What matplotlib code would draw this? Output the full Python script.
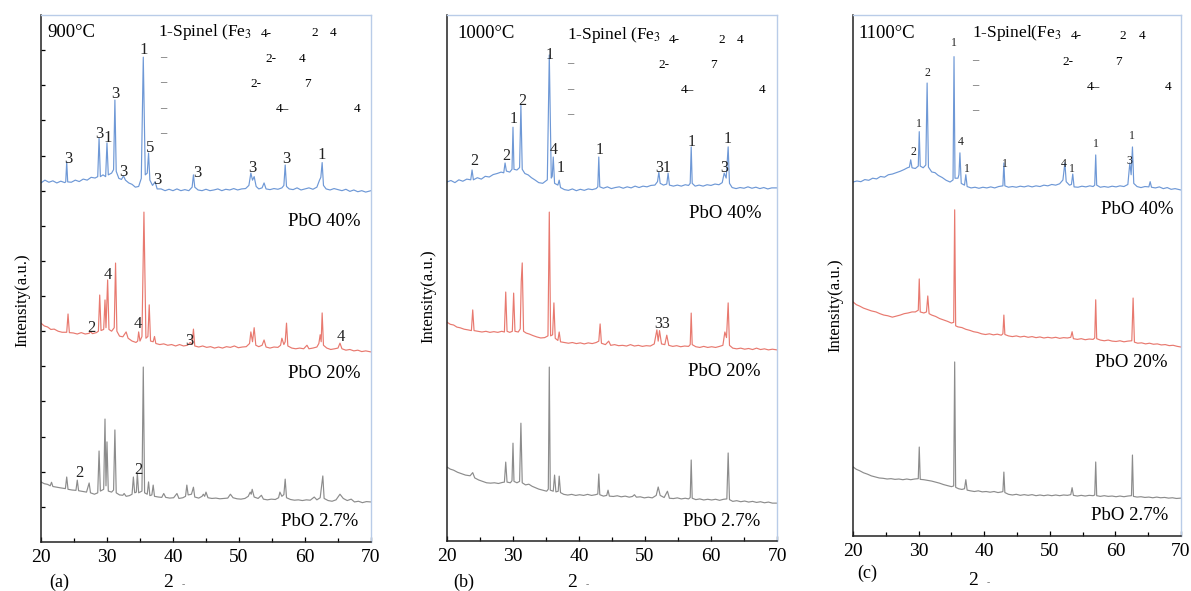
import matplotlib.pyplot as plt
import numpy as np

plt.rcParams["font.family"] = ["Liberation Serif", "DejaVu Serif"]
plt.rcParams["mathtext.fontset"] = "stix"

# XRD patterns: (2theta, intensity in tick units)
A_PBO40 = [(20.0, 10.22), (20.6, 10.30), (21.2, 10.24), (21.8, 10.28), (22.4, 10.22), (23.0, 10.27),
           (23.6, 10.23), (23.75, 10.25), (23.9, 10.82), (24.05, 10.25), (24.6, 10.24), (25.2, 10.30),
           (25.8, 10.26), (26.4, 10.33), (27.0, 10.30), (27.6, 10.38), (28.2, 10.36), (28.6, 10.40),
           (28.8, 11.50), (29.0, 10.40), (29.4, 10.45), (29.8, 10.40), (30.0, 11.36), (30.2, 10.45),
           (30.7, 10.50), (31.0, 10.60), (31.2, 12.58), (31.4, 10.55), (31.8, 10.35), (32.2, 10.32),
           (32.5, 10.42), (32.8, 10.30), (33.3, 10.22), (33.8, 10.18), (34.3, 10.10), (34.8, 10.12),
           (35.2, 10.35), (35.5, 13.80), (35.8, 10.45), (36.1, 10.50), (36.3, 11.07), (36.5, 10.30),
           (36.9, 10.15), (37.3, 10.25), (37.6, 10.05), (38.2, 10.05), (38.8, 10.00), (39.4, 10.04),
           (40.0, 10.00), (40.6, 10.05), (41.2, 10.00), (41.8, 10.03), (42.4, 10.00), (42.9, 10.10),
           (43.1, 10.45), (43.3, 10.10), (43.8, 10.02), (44.4, 10.00), (45.0, 10.04), (45.6, 10.00),
           (46.2, 10.02), (46.8, 10.05), (47.4, 10.00), (48.0, 10.04), (48.6, 10.02), (49.2, 10.06),
           (49.8, 10.02), (50.4, 10.05), (51.0, 10.06), (51.5, 10.15), (51.8, 10.50), (52.05, 10.30),
           (52.3, 10.40), (52.6, 10.12), (53.0, 10.05), (53.5, 10.08), (53.8, 10.22), (54.1, 10.05),
           (54.7, 10.03), (55.3, 10.06), (55.9, 10.04), (56.5, 10.08), (56.8, 10.15), (57.0, 10.73),
           (57.2, 10.12), (57.6, 10.05), (58.2, 10.03), (58.8, 10.08), (59.4, 10.02), (60.0, 10.05),
           (60.6, 10.08), (61.2, 10.04), (61.8, 10.10), (62.2, 10.30), (62.4, 10.38), (62.6, 10.80),
           (62.8, 10.15), (63.2, 10.05), (63.8, 10.02), (64.4, 10.06), (65.0, 10.03), (65.6, 10.00),
           (66.2, 10.04), (66.8, 9.98), (67.4, 10.02), (68.0, 9.97), (68.6, 10.00), (69.2, 9.96), (70.0, 10.00)]

A_PBO20 = [(20.0, 6.23), (20.5, 6.15), (21.0, 6.12), (21.5, 6.05), (22.0, 6.06), (22.6, 6.00), (23.2, 5.97),
           (23.9, 5.97), (24.1, 6.49), (24.3, 5.96), (24.9, 5.95), (25.5, 5.92), (26.1, 5.96), (26.7, 5.92),
           (27.3, 5.94), (27.5, 5.99), (27.8, 5.93), (28.4, 5.96), (28.7, 6.00), (28.9, 7.03), (29.1, 6.02),
           (29.5, 6.05), (29.7, 6.89), (29.85, 6.10), (30.1, 7.46), (30.3, 6.05), (30.7, 6.00), (31.1, 6.10),
           (31.3, 7.94), (31.5, 6.00), (31.9, 5.86), (32.4, 5.84), (32.9, 5.98), (33.2, 5.80), (33.8, 5.72),
           (34.4, 5.68), (34.65, 5.72), (34.8, 5.98), (35.0, 5.72), (35.3, 5.85), (35.6, 9.39), (35.9, 5.80),
           (36.2, 5.85), (36.4, 6.75), (36.6, 5.72), (37.0, 5.70), (37.2, 5.85), (37.4, 5.65), (38.0, 5.62),
           (38.6, 5.64), (39.2, 5.60), (39.8, 5.62), (40.4, 5.58), (41.0, 5.62), (41.6, 5.58), (42.2, 5.60),
           (42.6, 5.68), (42.9, 5.62), (43.1, 6.06), (43.3, 5.58), (43.9, 5.55), (44.5, 5.58), (45.1, 5.54),
           (45.7, 5.56), (46.3, 5.52), (46.9, 5.55), (47.5, 5.52), (48.1, 5.56), (48.7, 5.54), (49.3, 5.58),
           (49.9, 5.53), (50.5, 5.55), (51.1, 5.56), (51.6, 5.65), (51.8, 5.98), (52.05, 5.70), (52.3, 6.10),
           (52.55, 5.60), (53.0, 5.56), (53.5, 5.60), (53.8, 5.75), (54.1, 5.55), (54.7, 5.52), (55.3, 5.55),
           (55.9, 5.54), (56.3, 5.60), (56.5, 5.80), (56.8, 5.62), (57.0, 5.70), (57.2, 6.23), (57.4, 5.58),
           (58.0, 5.52), (58.6, 5.50), (59.2, 5.52), (59.8, 5.50), (60.3, 5.60), (60.6, 5.50), (61.2, 5.52),
           (61.8, 5.55), (62.1, 5.65), (62.3, 5.90), (62.45, 5.70), (62.6, 6.52), (62.8, 5.60), (63.3, 5.52),
           (63.9, 5.48), (64.5, 5.50), (65.0, 5.52), (65.3, 5.66), (65.6, 5.50), (66.2, 5.46), (66.8, 5.48),
           (67.4, 5.44), (68.0, 5.46), (68.6, 5.42), (69.2, 5.44), (70.0, 5.41)]

A_PBO27 = [(20.0, 1.71), (20.5, 1.66), (21.0, 1.64), (21.4, 1.60), (21.6, 1.70), (21.8, 1.58), (22.4, 1.56),
           (23.0, 1.54), (23.7, 1.52), (23.9, 1.85), (24.1, 1.50), (24.7, 1.48), (25.3, 1.47), (25.5, 1.76),
           (25.7, 1.46), (26.3, 1.44), (26.9, 1.42), (27.3, 1.68), (27.5, 1.40), (28.1, 1.36), (28.6, 1.40),
           (28.8, 2.59), (29.0, 1.45), (29.5, 1.50), (29.7, 3.50), (29.85, 1.60), (30.0, 2.85), (30.2, 1.45),
           (30.7, 1.42), (31.0, 1.48), (31.2, 3.19), (31.4, 1.40), (31.9, 1.34), (32.4, 1.33), (32.6, 1.38),
           (32.9, 1.30), (33.4, 1.32), (33.8, 1.36), (34.0, 1.85), (34.2, 1.40), (34.45, 1.42), (34.6, 1.96),
           (34.8, 1.40), (35.3, 1.45), (35.5, 4.98), (35.7, 1.40), (36.1, 1.36), (36.3, 1.71), (36.5, 1.32),
           (36.8, 1.34), (37.0, 1.62), (37.2, 1.30), (37.8, 1.28), (38.3, 1.27), (38.6, 1.38), (38.9, 1.27),
           (39.5, 1.25), (40.1, 1.26), (40.6, 1.38), (40.9, 1.24), (41.5, 1.26), (41.9, 1.30), (42.1, 1.62),
           (42.3, 1.34), (42.8, 1.36), (43.1, 1.56), (43.3, 1.28), (43.9, 1.25), (44.4, 1.30), (44.6, 1.36),
           (44.8, 1.30), (45.0, 1.42), (45.3, 1.26), (45.9, 1.24), (46.5, 1.25), (47.1, 1.23), (47.7, 1.24),
           (48.3, 1.25), (48.7, 1.36), (49.1, 1.26), (49.7, 1.23), (50.3, 1.22), (50.9, 1.24), (51.4, 1.30),
           (51.7, 1.42), (51.85, 1.36), (52.0, 1.50), (52.3, 1.28), (52.9, 1.24), (53.4, 1.33), (53.7, 1.22),
           (54.3, 1.20), (54.9, 1.22), (55.5, 1.21), (56.0, 1.26), (56.2, 1.42), (56.5, 1.30), (56.8, 1.35),
           (57.0, 1.79), (57.2, 1.26), (57.8, 1.21), (58.4, 1.19), (59.0, 1.20), (59.6, 1.18), (60.2, 1.20),
           (60.8, 1.19), (61.4, 1.28), (61.8, 1.20), (62.3, 1.26), (62.7, 1.88), (62.9, 1.24), (63.5, 1.18),
           (64.1, 1.16), (64.7, 1.20), (65.3, 1.36), (65.8, 1.24), (66.4, 1.18), (67.0, 1.22), (67.5, 1.14),
           (68.1, 1.16), (68.7, 1.12), (69.3, 1.15), (70.0, 1.14)]

B_PBO40 = [(20.0, 10.24), (20.6, 10.28), (21.2, 10.22), (21.8, 10.30), (22.4, 10.26), (23.0, 10.32),
           (23.6, 10.30), (23.8, 10.58), (24.0, 10.30), (24.6, 10.36), (25.2, 10.32), (25.8, 10.40),
           (26.4, 10.38), (27.0, 10.45), (27.6, 10.48), (28.2, 10.52), (28.6, 10.50), (28.8, 10.78),
           (29.0, 10.55), (29.5, 10.52), (29.85, 10.60), (30.0, 11.80), (30.15, 10.60), (30.6, 10.58),
           (31.0, 10.65), (31.2, 12.43), (31.4, 10.60), (31.8, 10.48), (32.3, 10.44), (32.8, 10.36),
           (33.3, 10.30), (33.9, 10.22), (34.5, 10.20), (35.2, 10.30), (35.5, 13.86), (35.8, 10.35),
           (35.95, 10.40), (36.1, 10.95), (36.3, 10.20), (36.8, 10.15), (37.0, 10.29), (37.2, 10.08),
           (37.8, 10.02), (38.4, 10.00), (39.0, 10.04), (39.6, 9.99), (40.2, 10.03), (40.8, 10.00),
           (41.4, 10.04), (42.0, 10.02), (42.6, 10.05), (42.85, 10.10), (43.0, 10.95), (43.15, 10.10),
           (43.7, 10.06), (44.3, 10.10), (44.9, 10.05), (45.5, 10.08), (46.1, 10.10), (46.7, 10.06),
           (47.3, 10.10), (47.9, 10.07), (48.5, 10.12), (49.1, 10.08), (49.7, 10.12), (50.3, 10.10),
           (50.9, 10.14), (51.5, 10.15), (51.9, 10.25), (52.1, 10.52), (52.3, 10.20), (52.8, 10.15),
           (53.3, 10.18), (53.5, 10.49), (53.7, 10.15), (54.3, 10.12), (54.9, 10.15), (55.5, 10.12),
           (56.1, 10.16), (56.6, 10.14), (56.85, 10.20), (57.0, 11.24), (57.15, 10.20), (57.6, 10.12),
           (58.2, 10.15), (58.8, 10.12), (59.4, 10.16), (60.0, 10.14), (60.6, 10.18), (61.2, 10.16),
           (61.7, 10.22), (62.0, 10.49), (62.3, 10.35), (62.6, 11.24), (62.8, 10.20), (63.2, 10.08),
           (63.8, 10.05), (64.4, 10.08), (65.0, 10.06), (65.6, 10.10), (66.2, 10.06), (66.8, 10.09),
           (67.4, 10.05), (68.0, 10.08), (68.6, 10.04), (69.2, 10.07), (70.0, 10.07)]

B_PBO20 = [(20.0, 6.24), (20.5, 6.18), (21.0, 6.16), (21.5, 6.10), (22.0, 6.08), (22.6, 6.04), (23.2, 6.02),
           (23.7, 6.00), (23.9, 6.59), (24.1, 6.00), (24.7, 5.98), (25.3, 5.96), (25.9, 5.98), (26.5, 5.95),
           (27.1, 5.97), (27.7, 5.95), (28.3, 5.98), (28.7, 5.96), (28.9, 7.10), (29.1, 5.98), (29.5, 5.95),
           (29.9, 5.98), (30.1, 7.07), (30.3, 5.98), (30.8, 5.96), (31.1, 6.05), (31.25, 7.40), (31.4, 7.93),
           (31.6, 5.98), (32.0, 5.93), (32.5, 5.90), (33.0, 5.86), (33.6, 5.82), (34.2, 5.79), (34.8, 5.80),
           (35.3, 5.85), (35.5, 9.38), (35.7, 5.85), (36.0, 5.88), (36.2, 6.79), (36.4, 5.78), (36.8, 5.72),
           (37.0, 5.96), (37.2, 5.68), (37.8, 5.66), (38.4, 5.64), (39.0, 5.66), (39.6, 5.63), (40.2, 5.65),
           (40.8, 5.62), (41.4, 5.65), (42.0, 5.63), (42.6, 5.66), (43.0, 5.70), (43.2, 6.19), (43.4, 5.64),
           (44.0, 5.60), (44.5, 5.70), (44.8, 5.58), (45.4, 5.60), (46.0, 5.57), (46.6, 5.58), (47.2, 5.56),
           (47.8, 5.60), (48.4, 5.56), (49.0, 5.58), (49.6, 5.55), (50.2, 5.57), (50.8, 5.56), (51.4, 5.62),
           (51.8, 6.02), (52.0, 5.70), (52.2, 6.00), (52.5, 5.62), (53.0, 5.60), (53.3, 5.87), (53.6, 5.58),
           (54.2, 5.55), (54.8, 5.57), (55.4, 5.54), (56.0, 5.56), (56.6, 5.55), (56.85, 5.60), (57.0, 6.50),
           (57.15, 5.60), (57.7, 5.54), (58.3, 5.52), (58.9, 5.55), (59.5, 5.52), (60.1, 5.54), (60.7, 5.52),
           (61.3, 5.55), (61.8, 5.58), (62.1, 5.96), (62.35, 5.80), (62.6, 6.79), (62.8, 5.58), (63.3, 5.50),
           (63.9, 5.48), (64.5, 5.50), (65.1, 5.47), (65.7, 5.49), (66.3, 5.46), (66.9, 5.50), (67.5, 5.46),
           (68.1, 5.48), (68.7, 5.45), (69.3, 5.47), (70.0, 5.45)]

B_PBO27 = [(20.0, 2.11), (20.5, 2.05), (21.0, 2.02), (21.6, 1.96), (22.2, 1.92), (22.8, 1.88), (23.5, 1.86),
           (23.9, 1.95), (24.2, 1.80), (24.8, 1.74), (25.4, 1.70), (26.0, 1.66), (26.6, 1.65), (27.2, 1.66),
           (27.8, 1.64), (28.4, 1.67), (28.7, 1.68), (28.9, 2.25), (29.1, 1.68), (29.6, 1.66), (29.85, 1.72),
           (30.0, 2.79), (30.15, 1.70), (30.6, 1.66), (31.0, 1.70), (31.2, 3.36), (31.4, 1.66), (31.9, 1.60),
           (32.4, 1.62), (32.9, 1.56), (33.4, 1.52), (33.9, 1.48), (34.5, 1.45), (35.1, 1.42), (35.35, 1.48),
           (35.5, 4.96), (35.65, 1.45), (36.1, 1.42), (36.3, 1.88), (36.5, 1.40), (36.85, 1.42), (37.0, 1.85),
           (37.2, 1.38), (37.7, 1.33), (38.3, 1.31), (38.9, 1.33), (39.5, 1.30), (40.1, 1.32), (40.7, 1.30),
           (41.3, 1.33), (41.9, 1.30), (42.5, 1.32), (42.85, 1.34), (43.0, 1.91), (43.15, 1.32), (43.7, 1.28),
           (44.2, 1.30), (44.4, 1.45), (44.6, 1.28), (45.2, 1.27), (45.8, 1.29), (46.4, 1.26), (47.0, 1.28),
           (47.6, 1.25), (48.1, 1.27), (48.4, 1.32), (48.7, 1.25), (49.3, 1.26), (49.9, 1.23), (50.5, 1.25),
           (51.1, 1.23), (51.7, 1.30), (52.0, 1.54), (52.3, 1.30), (52.9, 1.24), (53.4, 1.42), (53.7, 1.22),
           (54.3, 1.21), (54.9, 1.23), (55.5, 1.20), (56.1, 1.22), (56.6, 1.20), (56.85, 1.24), (57.0, 2.31),
           (57.15, 1.22), (57.7, 1.18), (58.3, 1.20), (58.9, 1.17), (59.5, 1.19), (60.1, 1.17), (60.7, 1.19),
           (61.3, 1.16), (61.9, 1.19), (62.4, 1.20), (62.6, 2.51), (62.8, 1.18), (63.3, 1.13), (63.9, 1.15),
           (64.5, 1.12), (65.1, 1.14), (65.7, 1.11), (66.3, 1.13), (66.9, 1.10), (67.5, 1.12), (68.1, 1.09),
           (68.7, 1.11), (69.3, 1.08), (70.0, 1.08)]

C_PBO40 = [(20.0, 10.19), (20.6, 10.22), (21.2, 10.20), (21.8, 10.26), (22.4, 10.24), (23.0, 10.30),
           (23.6, 10.28), (24.2, 10.35), (24.8, 10.33), (25.4, 10.40), (26.0, 10.42), (26.6, 10.46),
           (27.2, 10.50), (27.8, 10.55), (28.3, 10.60), (28.6, 10.62), (28.8, 10.83), (29.0, 10.60),
           (29.5, 10.58), (29.95, 10.65), (30.1, 11.64), (30.25, 10.65), (30.7, 10.60), (31.1, 10.68),
           (31.3, 13.04), (31.5, 10.62), (32.0, 10.48), (32.5, 10.46), (33.0, 10.38), (33.6, 10.32),
           (34.2, 10.24), (34.8, 10.19), (35.25, 10.25), (35.4, 13.80), (35.55, 10.30), (36.0, 10.30),
           (36.15, 10.40), (36.3, 11.03), (36.5, 10.15), (37.0, 10.10), (37.2, 10.40), (37.4, 10.06),
           (38.0, 10.02), (38.6, 10.04), (39.2, 10.01), (39.8, 10.04), (40.4, 10.02), (41.0, 10.05),
           (41.6, 10.02), (42.2, 10.06), (42.85, 10.08), (43.0, 10.74), (43.15, 10.08), (43.7, 10.04),
           (44.3, 10.06), (44.9, 10.04), (45.5, 10.07), (46.1, 10.05), (46.7, 10.08), (47.3, 10.05),
           (47.9, 10.08), (48.5, 10.06), (49.1, 10.10), (49.7, 10.08), (50.3, 10.12), (50.9, 10.10),
           (51.5, 10.14), (52.0, 10.25), (52.3, 10.74), (52.5, 10.20), (53.0, 10.10), (53.3, 10.12),
           (53.5, 10.42), (53.7, 10.05), (54.3, 10.04), (54.9, 10.07), (55.5, 10.05), (56.1, 10.08),
           (56.6, 10.06), (56.85, 10.10), (57.0, 10.97), (57.15, 10.10), (57.7, 10.04), (58.3, 10.06),
           (58.9, 10.04), (59.5, 10.07), (60.1, 10.05), (60.7, 10.08), (61.3, 10.06), (61.9, 10.12),
           (62.2, 10.74), (62.4, 10.40), (62.6, 11.20), (62.8, 10.15), (63.3, 10.06), (63.9, 10.03),
           (64.5, 10.06), (65.1, 10.05), (65.3, 10.20), (65.5, 10.04), (66.1, 10.02), (66.7, 10.05),
           (67.3, 10.00), (67.9, 10.03), (68.5, 9.98), (69.1, 10.00), (70.0, 9.96)]

C_PBO20 = [(20.0, 6.74), (20.5, 6.66), (21.0, 6.62), (21.6, 6.56), (22.2, 6.52), (22.8, 6.48), (23.5, 6.45),
           (24.1, 6.40), (24.7, 6.36), (25.3, 6.34), (26.0, 6.30), (26.6, 6.33), (27.2, 6.36), (27.8, 6.40),
           (28.4, 6.42), (29.0, 6.45), (29.5, 6.45), (29.95, 6.50), (30.1, 7.40), (30.25, 6.45), (30.8, 6.42),
           (31.2, 6.45), (31.4, 6.91), (31.6, 6.40), (32.0, 6.36), (32.6, 6.32), (33.2, 6.26), (33.8, 6.22),
           (34.4, 6.18), (35.0, 6.13), (35.35, 6.15), (35.5, 9.39), (35.65, 6.05), (36.0, 6.02), (36.6, 6.00),
           (37.2, 5.95), (37.8, 5.92), (38.4, 5.88), (39.0, 5.86), (39.6, 5.82), (40.2, 5.80), (40.8, 5.82),
           (41.4, 5.79), (42.0, 5.81), (42.6, 5.78), (42.85, 5.82), (43.0, 6.36), (43.15, 5.80), (43.7, 5.76),
           (44.3, 5.74), (44.9, 5.76), (45.5, 5.73), (46.1, 5.75), (46.7, 5.72), (47.3, 5.74), (47.9, 5.71),
           (48.5, 5.73), (49.1, 5.70), (49.7, 5.72), (50.3, 5.70), (50.9, 5.72), (51.5, 5.69), (52.1, 5.71),
           (52.7, 5.70), (53.2, 5.72), (53.4, 5.88), (53.6, 5.68), (54.2, 5.66), (54.8, 5.68), (55.4, 5.65),
           (56.0, 5.67), (56.6, 5.66), (56.85, 5.70), (57.0, 6.80), (57.15, 5.68), (57.7, 5.64), (58.3, 5.62),
           (58.9, 5.64), (59.5, 5.61), (60.1, 5.60), (60.7, 5.62), (61.3, 5.59), (61.9, 5.61), (62.5, 5.62),
           (62.7, 6.85), (62.9, 5.58), (63.4, 5.55), (64.0, 5.56), (64.6, 5.53), (65.2, 5.55), (65.8, 5.52),
           (66.4, 5.53), (67.0, 5.50), (67.6, 5.51), (68.2, 5.48), (68.8, 5.49), (69.4, 5.46), (70.0, 5.44)]

C_PBO27 = [(20.0, 1.99), (20.5, 1.92), (21.0, 1.88), (21.6, 1.82), (22.2, 1.78), (22.8, 1.73), (23.4, 1.70),
           (24.0, 1.67), (24.6, 1.66), (25.2, 1.64), (25.8, 1.65), (26.4, 1.63), (27.0, 1.64), (27.6, 1.62),
           (28.2, 1.64), (28.8, 1.62), (29.4, 1.64), (29.95, 1.65), (30.1, 2.56), (30.25, 1.63), (30.8, 1.62),
           (31.4, 1.60), (32.0, 1.58), (32.6, 1.55), (33.2, 1.52), (33.8, 1.48), (34.4, 1.45), (35.0, 1.42),
           (35.35, 1.44), (35.5, 5.01), (35.65, 1.40), (36.1, 1.36), (36.6, 1.34), (37.0, 1.36), (37.2, 1.62),
           (37.4, 1.32), (37.9, 1.30), (38.5, 1.28), (39.1, 1.30), (39.7, 1.27), (40.3, 1.28), (40.9, 1.26),
           (41.5, 1.28), (42.1, 1.25), (42.7, 1.27), (42.85, 1.28), (43.0, 1.84), (43.15, 1.25), (43.7, 1.20),
           (44.3, 1.18), (44.9, 1.20), (45.5, 1.17), (46.1, 1.19), (46.7, 1.17), (47.3, 1.19), (47.9, 1.16),
           (48.5, 1.18), (49.1, 1.16), (49.7, 1.18), (50.3, 1.16), (50.9, 1.18), (51.5, 1.16), (52.1, 1.18),
           (52.7, 1.17), (53.2, 1.19), (53.4, 1.39), (53.6, 1.17), (54.2, 1.15), (54.8, 1.17), (55.4, 1.15),
           (56.0, 1.17), (56.6, 1.16), (56.85, 1.18), (57.0, 2.13), (57.15, 1.16), (57.7, 1.14), (58.3, 1.16),
           (58.9, 1.14), (59.5, 1.15), (60.1, 1.13), (60.7, 1.15), (61.3, 1.13), (61.9, 1.15), (62.45, 1.16),
           (62.6, 2.33), (62.75, 1.14), (63.3, 1.12), (63.9, 1.13), (64.5, 1.11), (65.1, 1.12), (65.7, 1.10),
           (66.3, 1.12), (66.9, 1.10), (67.5, 1.11), (68.1, 1.09), (68.7, 1.10), (69.3, 1.08), (70.0, 1.09)]

# peak phase labels (2theta, height, label)
A_PEAKS = [(24.09, 10.90, "3"), (28.79, 11.61, "3"), (30.15, 11.50, "1"), (31.21, 12.75, "3"),
           (32.42, 10.53, "3"), (35.61, 14.00, "1"), (36.52, 11.22, "5"), (37.58, 10.30, "3"),
           (43.64, 10.50, "3"), (51.97, 10.65, "3"), (57.12, 10.90, "3"), (62.58, 11.02, "1"),
           (27.58, 6.09, "2"), (30.15, 7.60, "4"), (34.70, 6.21, "4"), (42.42, 5.72, "3"),
           (65.45, 5.84, "4"), (25.76, 1.96, "2"), (34.70, 2.05, "2")]
B_PEAKS = [(24.09, 10.84, "2"), (28.94, 10.98, "2"), (30.15, 12.03, "1"), (31.36, 12.55, "2"),
           (35.61, 13.86, "1"), (36.21, 11.15, "4"), (37.27, 10.64, "1"), (43.18, 11.15, "1"),
           (52.73, 10.64, "31"), (57.12, 11.38, "1"), (62.58, 11.46, "1"), (61.97, 10.64, "3"),
           (52.58, 6.19, "33")]
C_PEAKS = [(29.15, 11.06, "2"), (30.06, 11.86, "1"), (31.28, 13.33, "2"), (35.40, 14.20, "1"),
           (36.46, 11.34, "4"), (37.38, 10.57, "1"), (43.17, 10.71, "1"), (52.16, 10.71, "4"),
           (53.38, 10.57, "1"), (57.04, 11.29, "1"), (62.07, 10.80, "3"), (62.53, 11.52, "1")]

SAMPLES = ["PbO 40%", "PbO 20%", "PbO 2.7%"]
TEMPS = ["900°C", "1000°C", "1100°C"]
SPINEL = ["1-Spinel (Fe$_3$", "1-Spinel (Fe$_3$", "1-Spinel(Fe$_3$"]
LETTERS = ["(a)", "(b)", "(c)"]
XTICKS = [20, 30, 40, 50, 60, 70]

COLORS = ["#6e98d6", "#e8796f", "#8c8c8c"]
EDGE = "#b9cce8"

fig = plt.figure(figsize=(11.91, 5.91), dpi=100)

panels = [
    dict(rect=[0.0344, 0.0829, 0.2771, 0.8917], curves=[A_PBO40, A_PBO20, A_PBO27], peaks=A_PEAKS,
         psize=12, sample_xy=[(62.88, 9.11), (62.88, 4.81), (62.27, 0.57)],
         ylab=(0.0185, 0.492), letter=(0.050, 0.015), two=(0.141, 0.015),
         head=dict(t=(0.018, 0.966), s=(0.355, 0.968), r1=[(0.683, 0.964, "4-"), (0.830, 0.966, "2"), (0.885, 0.966, "4")],
                   r2=[(0.697, 0.917, "2-"), (0.791, 0.917, "4")], r3=[(0.652, 0.869, "2-"), (0.806, 0.869, "7")],
                   r4=[(0.730, 0.822, "4–"), (0.958, 0.822, "4")], dashes=(0.370, [0.920, 0.873, 0.824, 0.776])),
         yticks=True),
    dict(rect=[0.3753, 0.0846, 0.2771, 0.8900], curves=[B_PBO40, B_PBO20, B_PBO27], peaks=B_PEAKS,
         psize=11.5, sample_xy=[(62.12, 9.35), (61.97, 4.82), (61.67, 0.57)],
         ylab=(0.360, 0.499), letter=(0.389, 0.015), two=(0.480, 0.015),
         head=dict(t=(0.033, 0.964), s=(0.364, 0.962), r1=[(0.690, 0.952, "4-"), (0.833, 0.952, "2"), (0.888, 0.952, "4")],
                   r2=[(0.658, 0.905, "2-"), (0.806, 0.905, "7")], r3=[(0.727, 0.857, "4–"), (0.955, 0.857, "4")],
                   r4=[], dashes=(0.373, [0.909, 0.859, 0.812])),
         yticks=False),
    dict(rect=[0.7162, 0.0931, 0.2754, 0.8816], curves=[C_PBO40, C_PBO20, C_PBO27], peaks=C_PEAKS,
         psize=8.5, sample_xy=[(63.29, 9.39), (62.38, 4.98), (62.23, 0.58)],
         ylab=(0.701, 0.484), letter=(0.728, 0.030), two=(0.817, 0.018),
         head=dict(t=(0.015, 0.965), s=(0.363, 0.965), r1=[(0.680, 0.960, "4-"), (0.823, 0.960, "2"), (0.881, 0.960, "4")],
                   r2=[(0.655, 0.910, "2-"), (0.808, 0.910, "7")], r3=[(0.732, 0.862, "4–"), (0.960, 0.862, "4")],
                   r4=[], dashes=(0.372, [0.914, 0.866, 0.818])),
         yticks=False),
]

for i, p in enumerate(panels):
    ax = fig.add_axes(p["rect"])
    for curve, color in zip(p["curves"], COLORS):
        xy = np.array(curve)
        ax.plot(xy[:, 0], xy[:, 1], color=color, lw=0.85)
    for x, y, t in p["peaks"]:
        ax.text(x, y, t, fontsize=p["psize"], ha="center", va="center", color="#222222")
    for (x, y), s in zip(p["sample_xy"], SAMPLES):
        ax.text(x, y, s, fontsize=13.5, ha="center", va="center")

    h = p["head"]
    ax.text(*h["t"], TEMPS[i], transform=ax.transAxes, fontsize=13.5, ha="left", va="center")
    ax.text(*h["s"], SPINEL[i], transform=ax.transAxes, fontsize=12.5, ha="left", va="center")
    for row in ("r1", "r2", "r3", "r4"):
        for x, y, t in h[row]:
            ax.text(x, y, t, transform=ax.transAxes, fontsize=9.5, ha="center", va="center")
    dx, dys = h["dashes"]
    for dy in dys:
        ax.text(dx, dy, "–", transform=ax.transAxes, fontsize=9, ha="center", va="center", color="#555555")

    ax.set_xlim(20, 70)
    ax.set_ylim(0, 15)
    ax.set_xticks(XTICKS)
    ax.set_xticks(np.arange(25, 70, 10), minor=True)
    ax.tick_params(axis="x", direction="in", length=3.5, width=0.9, labelsize=14, pad=5)
    ax.tick_params(axis="x", which="minor", direction="in", length=3, width=0.9)
    if p["yticks"]:
        ax.set_yticks(np.arange(1, 15))
        ax.tick_params(axis="y", direction="in", length=3, width=0.9, labelleft=False)
    else:
        ax.set_yticks([])
    for side in ("left", "bottom"):
        ax.spines[side].set_color("#222222")
        ax.spines[side].set_linewidth(1.1)
    for side in ("top", "right"):
        ax.spines[side].set_color(EDGE)
        ax.spines[side].set_linewidth(1.0)

    fig.text(*p["ylab"], "Intensity(a.u.)", rotation=90, fontsize=12, ha="center", va="center")
    fig.text(*p["letter"], LETTERS[i], fontsize=13, ha="center", va="center")
    fig.text(*p["two"], "2", fontsize=14, ha="center", va="center")
    fig.text(p["two"][0] + 0.013, p["two"][1] - 0.004, "-", fontsize=7, ha="center", va="center", color="#777777")

fig.savefig("out.png", dpi=100)
